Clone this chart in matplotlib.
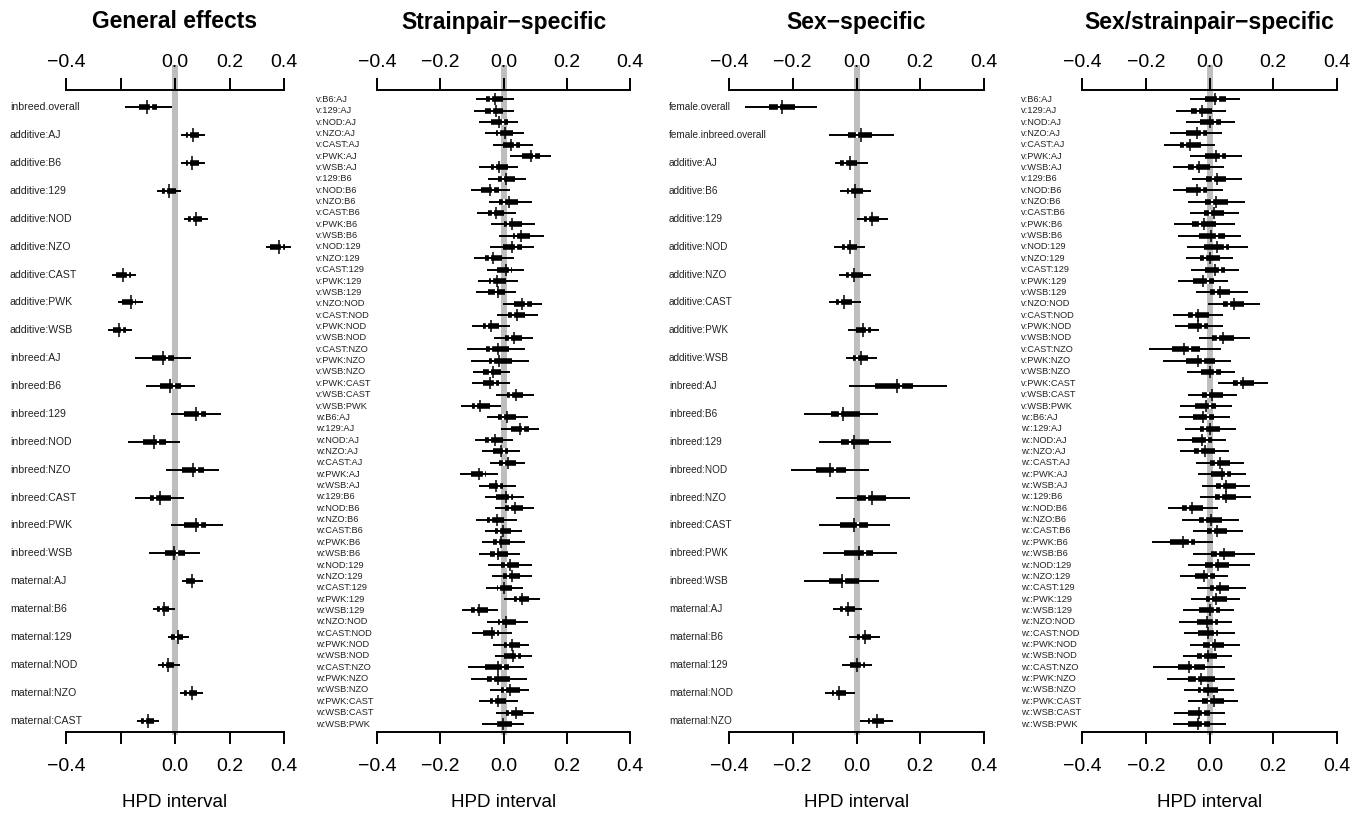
import matplotlib
matplotlib.use('Agg')
import matplotlib.pyplot as plt
import matplotlib.transforms as mtransforms

plt.rcParams['font.family'] = ['Liberation Sans', 'DejaVu Sans']

W, H = 1365, 813

# ---- categories ----
strains = ['AJ', 'B6', '129', 'NOD', 'NZO', 'CAST', 'PWK', 'WSB']
pairs = [strains[i] + ':' + strains[j] for j in range(8) for i in range(j + 1, 8)]

general_labels = (['inbreed.overall'] + ['additive:' + s for s in strains]
                  + ['inbreed:' + s for s in strains] + ['maternal:' + s for s in strains[:6]])
sex_labels = (['female.overall', 'female.inbreed.overall'] + ['additive:' + s for s in strains]
              + ['inbreed:' + s for s in strains] + ['maternal:' + s for s in strains[:5]])
sp_labels = ['v:' + p for p in pairs] + ['w:' + p for p in pairs]
ssp_labels = ['v:' + p for p in pairs] + ['w::' + p for p in pairs]

# ---- HPD summaries: 95% lo, 50% lo, mean, median, 50% hi, 95% hi ----
gen_lo95 = [-0.184, 0.023, 0.023, -0.065, 0.033, 0.334, -0.233, -0.209, -0.245, -0.148, -0.107, -0.016,
            -0.172, -0.032, -0.148, -0.016, -0.095, 0.027, -0.080, -0.026, -0.061, 0.018, -0.138]
gen_lo50 = [-0.132, 0.039, 0.039, -0.049, 0.049, 0.350, -0.217, -0.193, -0.229, -0.085, -0.055, 0.033,
            -0.116, 0.024, -0.091, 0.033, -0.038, 0.041, -0.065, -0.013, -0.046, 0.033, -0.126]
gen_mid = [-0.101, 0.066, 0.063, -0.022, 0.078, 0.380, -0.189, -0.162, -0.207, -0.043, -0.018, 0.076,
           -0.077, 0.066, -0.056, 0.076, -0.004, 0.061, -0.040, 0.011, -0.024, 0.061, -0.098]
gen_med = [-0.087, 0.051, 0.051, -0.034, 0.063, 0.393, -0.174, -0.152, -0.196, -0.028, -0.004, 0.090,
           -0.061, 0.082, -0.074, 0.090, 0.009, 0.076, -0.052, 0.002, -0.037, 0.048, -0.111]
gen_hi50 = [-0.065, 0.088, 0.088, 0.002, 0.100, 0.405, -0.162, -0.144, -0.180, -0.004, 0.021, 0.112,
            -0.034, 0.106, -0.016, 0.115, 0.037, 0.082, -0.022, 0.030, -0.004, 0.082, -0.077]
gen_hi95 = [-0.010, 0.110, 0.109, 0.023, 0.122, 0.427, -0.144, -0.116, -0.156, 0.057, 0.073, 0.170,
            0.018, 0.161, 0.033, 0.176, 0.090, 0.102, 0.000, 0.051, 0.017, 0.102, -0.059]

sp_lo95 = [-0.088, -0.092, -0.078, -0.060, -0.034, 0.021, -0.078, -0.049, -0.102, -0.046, -0.083, -0.041,
           -0.013, -0.044, -0.092, -0.052, -0.081, -0.086, -0.002, -0.021, -0.099, -0.031, -0.115, -0.104,
           -0.097, -0.100, -0.023, -0.134,
           -0.052, -0.009, -0.089, -0.067, -0.044, -0.136, -0.078, -0.058, -0.028, -0.088, -0.058, -0.067,
           -0.078, -0.049, -0.036, -0.055, 0.000, -0.132, -0.053, -0.099, -0.032, -0.028, -0.111, -0.104,
           -0.042, -0.076, -0.025, -0.067]
sp_lo50 = [-0.055, -0.060, -0.041, -0.025, -0.002, 0.059, -0.041, -0.018, -0.071, -0.013, -0.049, 0.000,
           0.029, -0.002, -0.060, -0.020, -0.047, -0.049, 0.033, 0.014, -0.065, 0.006, -0.055, -0.046,
           -0.065, -0.065, 0.011, -0.100,
           -0.016, 0.024, -0.057, -0.034, -0.013, -0.102, -0.046, -0.023, 0.006, -0.053, -0.026, -0.034,
           -0.044, -0.007, -0.002, -0.021, 0.032, -0.102, -0.018, -0.065, 0.001, 0.003, -0.057, -0.053,
           -0.007, -0.044, 0.008, -0.028]
sp_mid = [-0.028, -0.023, -0.013, 0.006, 0.024, 0.087, -0.013, 0.008, -0.044, 0.017, -0.023, 0.027,
          0.056, 0.027, -0.034, 0.008, -0.021, -0.018, 0.059, 0.042, -0.039, 0.033, -0.016, -0.013,
          -0.034, -0.042, 0.038, -0.073,
          0.012, 0.053, -0.028, -0.007, 0.014, -0.078, -0.023, 0.008, 0.035, -0.020, -0.002, -0.007,
          -0.016, 0.021, 0.026, 0.003, 0.059, -0.076, 0.008, -0.036, 0.026, 0.029, -0.018, -0.016,
          0.021, -0.016, 0.038, -0.002]
sp_med = [-0.039, -0.036, -0.002, -0.013, 0.035, 0.098, -0.028, -0.002, -0.034, 0.003, -0.034, 0.014,
          0.040, 0.040, -0.044, 0.019, -0.036, -0.023, 0.072, 0.029, -0.053, 0.019, -0.039, -0.034,
          -0.044, -0.028, 0.024, -0.086,
          -0.002, 0.063, -0.044, 0.003, 0.000, -0.062, -0.013, 0.021, 0.019, -0.039, -0.015, -0.018,
          -0.023, 0.008, 0.014, -0.013, 0.045, -0.086, -0.007, -0.023, 0.014, 0.042, -0.002, -0.034,
          0.006, -0.031, 0.022, -0.023]
sp_hi50 = [-0.002, -0.002, 0.014, 0.029, 0.053, 0.114, 0.014, 0.035, -0.015, 0.045, 0.003, 0.059,
           0.085, 0.059, -0.004, 0.027, 0.008, 0.006, 0.089, 0.068, -0.013, 0.059, 0.017, 0.026,
           -0.009, -0.013, 0.063, -0.044,
           0.040, 0.080, -0.002, 0.014, 0.038, -0.055, -0.002, 0.029, 0.063, 0.000, 0.024, 0.021,
           0.014, 0.048, 0.051, 0.027, 0.082, -0.049, 0.038, -0.013, 0.051, 0.056, 0.017, 0.019,
           0.051, 0.008, 0.061, 0.026]
sp_hi95 = [0.033, 0.033, 0.047, 0.064, 0.093, 0.151, 0.045, 0.072, 0.021, 0.089, 0.038, 0.101,
           0.127, 0.096, 0.033, 0.064, 0.047, 0.040, 0.122, 0.108, 0.021, 0.093, 0.068, 0.080,
           0.022, 0.021, 0.098, -0.007,
           0.077, 0.112, 0.029, 0.051, 0.069, -0.016, 0.038, 0.064, 0.096, 0.043, 0.059, 0.068,
           0.051, 0.091, 0.089, 0.063, 0.114, -0.016, 0.077, 0.026, 0.082, 0.089, 0.066, 0.075,
           0.080, 0.045, 0.098, 0.064]

sex_lo95 = [-0.349, -0.086, -0.068, -0.053, 0.002, -0.071, -0.055, -0.086, -0.028, -0.034, -0.024, -0.165,
            -0.118, -0.205, -0.065, -0.118, -0.105, -0.165, -0.074, -0.023, -0.044, -0.100, 0.011]
sex_lo50 = [-0.274, -0.026, -0.051, -0.029, 0.024, -0.045, -0.032, -0.063, -0.003, -0.011, 0.058, -0.079,
            -0.049, -0.126, 0.003, -0.051, -0.040, -0.086, -0.053, 0.000, -0.021, -0.076, 0.035]
sex_mid = [-0.234, 0.014, -0.021, -0.005, 0.049, -0.021, -0.007, -0.040, 0.021, 0.014, 0.126, -0.042,
           -0.007, -0.082, 0.049, -0.007, 0.008, -0.046, -0.026, 0.026, 0.002, -0.056, 0.063]
sex_med = [-0.244, 0.000, -0.037, -0.021, 0.037, -0.032, -0.019, -0.053, 0.032, 0.002, 0.140, -0.053,
           -0.021, -0.068, 0.034, 0.005, 0.026, -0.040, -0.040, 0.013, 0.016, -0.068, 0.047]
sex_hi50 = [-0.192, 0.049, 0.000, 0.019, 0.071, 0.002, 0.019, -0.014, 0.044, 0.037, 0.177, 0.011,
            0.040, -0.032, 0.093, 0.037, 0.053, 0.007, -0.005, 0.045, 0.026, -0.034, 0.087]
sex_hi95 = [-0.123, 0.118, 0.037, 0.045, 0.100, 0.028, 0.045, 0.013, 0.071, 0.065, 0.284, 0.068,
            0.108, 0.040, 0.168, 0.105, 0.126, 0.072, 0.018, 0.074, 0.049, -0.005, 0.116]

ssp_lo95 = [-0.061, -0.106, -0.075, -0.124, -0.142, -0.061, -0.114, -0.054, -0.114, -0.068, -0.061, -0.111,
            -0.100, -0.072, -0.074, -0.058, -0.098, -0.042, -0.006, -0.114, -0.108, -0.032, -0.191, -0.147,
            -0.072, 0.028, -0.069, -0.093,
            -0.096, -0.077, -0.103, -0.093, -0.043, -0.037, -0.022, -0.029, -0.129, -0.087, -0.051, -0.180,
            -0.053, -0.066, -0.093, -0.040, -0.058, -0.082, -0.095, -0.079, -0.061, -0.082, -0.177, -0.132,
            -0.080, -0.068, -0.112, -0.116]
ssp_lo50 = [-0.014, -0.058, -0.029, -0.075, -0.093, -0.014, -0.066, -0.011, -0.074, -0.014, -0.016, -0.054,
            -0.033, -0.016, -0.029, -0.014, -0.053, 0.000, 0.042, -0.066, -0.066, 0.009, -0.119, -0.074,
            -0.027, 0.073, -0.024, -0.045,
            -0.053, -0.029, -0.056, -0.048, 0.002, 0.005, 0.020, 0.018, -0.087, -0.033, -0.008, -0.124,
            0.004, -0.014, -0.047, 0.000, -0.011, -0.032, -0.040, -0.037, -0.019, -0.038, -0.098, -0.066,
            -0.037, -0.022, -0.066, -0.066]
ssp_mid = [0.018, -0.022, 0.002, -0.038, -0.061, 0.021, -0.032, 0.023, -0.040, 0.020, 0.013, -0.016,
           0.004, 0.025, 0.002, 0.018, -0.019, 0.032, 0.076, -0.035, -0.037, 0.042, -0.079, -0.035,
           0.002, 0.105, 0.009, -0.012,
           -0.021, 0.002, -0.022, -0.014, 0.034, 0.039, 0.052, 0.052, -0.054, 0.004, 0.025, -0.082,
           0.047, 0.028, -0.016, 0.032, 0.021, 0.000, -0.008, -0.005, 0.018, -0.005, -0.063, -0.026,
           -0.005, 0.013, -0.032, -0.035]
ssp_med = [0.028, -0.035, 0.018, -0.024, -0.077, 0.036, -0.045, 0.011, -0.024, 0.009, 0.000, -0.029,
           0.023, 0.049, -0.014, 0.032, -0.006, 0.020, 0.060, -0.048, -0.021, 0.028, -0.061, -0.019,
           0.018, 0.092, -0.006, 0.000,
           -0.006, -0.014, -0.008, -0.029, 0.020, 0.053, 0.039, 0.036, -0.068, -0.014, 0.011, -0.061,
           0.028, 0.013, -0.003, 0.018, 0.005, 0.016, 0.013, 0.016, 0.004, -0.019, -0.051, -0.040,
           -0.024, -0.003, -0.019, -0.019]
ssp_hi50 = [0.053, 0.007, 0.036, -0.008, -0.027, 0.053, 0.000, 0.053, -0.008, 0.057, 0.046, 0.021,
            0.049, 0.060, 0.032, 0.049, 0.013, 0.063, 0.109, -0.003, -0.005, 0.076, -0.029, 0.018,
            0.036, 0.139, 0.042, 0.021,
            0.013, 0.034, 0.007, 0.016, 0.063, 0.067, 0.083, 0.083, -0.021, 0.039, 0.055, -0.045,
            0.081, 0.062, 0.018, 0.062, 0.055, 0.034, 0.028, 0.028, 0.044, 0.023, -0.014, 0.018,
            0.026, 0.044, 0.000, 0.002]
ssp_hi95 = [0.097, 0.053, 0.081, 0.039, 0.016, 0.102, 0.044, 0.102, 0.041, 0.111, 0.092, 0.079,
            0.099, 0.120, 0.074, 0.092, 0.058, 0.120, 0.158, 0.041, 0.041, 0.126, 0.036, 0.067,
            0.081, 0.184, 0.086, 0.071,
            0.063, 0.084, 0.053, 0.060, 0.109, 0.116, 0.126, 0.131, 0.028, 0.092, 0.104, 0.011,
            0.144, 0.128, 0.058, 0.113, 0.097, 0.076, 0.071, 0.079, 0.095, 0.071, 0.049, 0.079,
            0.078, 0.088, 0.049, 0.052]

ticks = [-0.4, -0.2, 0.0, 0.2, 0.4]
tick_labels = ['\u22120.4', '\u22120.2', '0.0', '0.2', '0.4']
tick_labels_general = ['\u22120.4', '', '0.0', '0.2', '0.4']

panels = [
    dict(title='General effects', labels=general_labels, ticklabels=tick_labels_general,
         data=(gen_lo95, gen_lo50, gen_mid, gen_med, gen_hi50, gen_hi95),
         x0=66, x1=284, labx=10, fs=7.6, tick_ms=10, ylim=(22.41, -0.62)),
    dict(title='Strainpair\u2212specific', labels=sp_labels, ticklabels=tick_labels,
         data=(sp_lo95, sp_lo50, sp_mid, sp_med, sp_hi50, sp_hi95),
         x0=377, x1=630, labx=316, fs=6.7, tick_ms=8.6, ylim=(55.70, -0.82)),
    dict(title='Sex\u2212specific', labels=sex_labels, ticklabels=tick_labels,
         data=(sex_lo95, sex_lo50, sex_mid, sex_med, sex_hi50, sex_hi95),
         x0=729, x1=984, labx=669, fs=7.2, tick_ms=10, ylim=(22.41, -0.62)),
    dict(title='Sex/strainpair\u2212specific', labels=ssp_labels, ticklabels=tick_labels,
         data=(ssp_lo95, ssp_lo50, ssp_mid, ssp_med, ssp_hi50, ssp_hi95),
         x0=1082, x1=1337, labx=1021, fs=6.7, tick_ms=8.6, ylim=(55.70, -0.82)),
]

y_top, y_bot, y_gray = 90, 732, 68

fig = plt.figure(figsize=(W / 100, H / 100), dpi=100)

for p in panels:
    lo95, lo50, mid, med, hi50, hi95 = p['data']
    n = len(p['labels'])
    for arr in p['data']:
        assert len(arr) == n, (p['title'], len(arr), n)

    span = p['x1'] - p['x0']
    left = p['x0'] - 0.05 / 0.8 * span
    width = 0.9 / 0.8 * span
    ax = fig.add_axes([left / W, 1 - y_bot / H, width / W, (y_bot - y_top) / H])
    ax.set_xlim(-0.45, 0.45)
    ax.set_ylim(*p['ylim'])
    ys = list(range(n))

    # zero reference line
    ax.axvline(0, ymin=0, ymax=(y_bot - y_gray) / (y_bot - y_top), color='#bebebe',
               lw=4.3, zorder=0, clip_on=False)

    ax.hlines(ys, lo50, hi50, color='black', lw=4.0, zorder=2)
    ax.plot(med, ys, ls='none', marker='|', ms=4.6, mew=1.6, color='white', zorder=2.5)
    ax.hlines(ys, lo95, hi95, color='black', lw=1.4, zorder=3)
    ax.plot(mid, ys, ls='none', marker='|', ms=p['tick_ms'], mew=1.1, color='black', zorder=4)

    # row labels in the left margin
    tr_lab = mtransforms.blended_transform_factory(fig.transFigure, ax.transData)
    for i, lab in enumerate(p['labels']):
        ax.text(p['labx'] / W, i, lab, transform=tr_lab, ha='left', va='center',
                fontsize=p['fs'], color='#222222')

    for s in ['left', 'right', 'top']:
        ax.spines[s].set_visible(False)
    ax.spines['bottom'].set_bounds(-0.4, 0.4)
    ax.spines['bottom'].set_linewidth(1.4)
    ax.set_yticks([])
    ax.set_xticks(ticks)
    ax.set_xticklabels(p['ticklabels'])
    ax.tick_params(axis='x', length=8.6, width=1.4, pad=10, labelsize=14)

    sec = ax.secondary_xaxis('top')
    sec.set_xticks(ticks)
    sec.set_xticklabels(p['ticklabels'])
    sec.spines['top'].set_bounds(-0.4, 0.4)
    sec.spines['top'].set_linewidth(1.4)
    sec.tick_params(axis='x', length=8.6, width=1.4, pad=5, labelsize=14)

    tr_t = mtransforms.blended_transform_factory(ax.transData, fig.transFigure)
    ax.text(0, 1 - 22 / H, p['title'], transform=tr_t, ha='center', va='center',
            fontsize=16.5, fontweight='bold')
    ax.text(0, 1 - 802 / H, 'HPD interval', transform=tr_t, ha='center', va='center',
            fontsize=13.5)

fig.savefig('out.png', dpi=100)
